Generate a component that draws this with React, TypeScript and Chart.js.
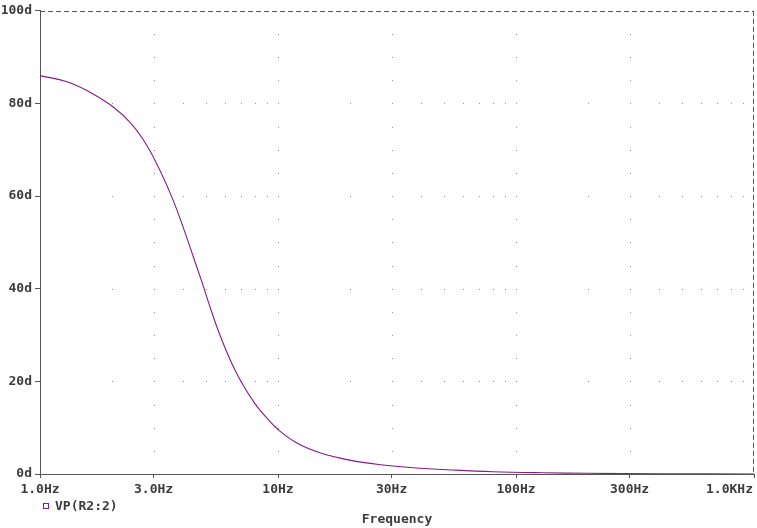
import React, { useEffect, useRef } from "react";
import { Chart, registerables } from "chart.js";

Chart.register(...registerables);

// ---- data ----
const freqHz = [1, 1.3, 1.6, 2, 2.4, 2.8, 3.2, 3.6, 4, 4.4, 4.8, 5.2, 5.7, 6.3, 7, 8, 9, 10, 12, 15, 20, 27, 37, 55, 80, 130, 200, 400, 1000];
const phaseDeg = [86.0, 84.7, 82.6, 79.5, 75.8, 71.1, 65.4, 59.5, 53.2, 47.0, 41.3, 35.8, 30.0, 24.6, 19.9, 15.2, 12.0, 9.6, 6.7, 4.6, 3.0, 2.0, 1.35, 0.85, 0.5, 0.27, 0.15, 0.05, 0.0];

const xTickValues = [1, 3, 10, 30, 100, 300, 1000];
const xTickLabels = ["1.0Hz", "3.0Hz", "10Hz", "30Hz", "100Hz", "300Hz", "1.0KHz"];
const yTickValues = [0, 20, 40, 60, 80, 100];
const yTickSuffix = "d";
const seriesLabel = "VP(R2:2)";
const xTitle = "Frequency";

// dotted grid positions
const gridRowValues = [20, 40, 60, 80];
const gridColValues = [3, 10, 30, 100, 300];
const minorMultipliers = [2, 3, 4, 5, 6, 7, 8, 9];
const decades = [1, 10, 100];
const gridColStepDeg = 5;

// ---- styles ----
const FONT = "'DejaVu Sans Mono', monospace";
const TEXT = "#3c3c3c";
const AXIS = "#555555";
const LINE = "#861a86";
const DOT = "#8a8a8a";

const gridDots = {
  id: "gridDots",
  beforeDatasetsDraw(chart: any) {
    const { ctx, scales } = chart;
    const x = scales.x;
    const y = scales.y;
    ctx.save();
    ctx.fillStyle = DOT;
    for (const r of gridRowValues) {
      const py = Math.round(y.getPixelForValue(r));
      for (const d of decades) {
        for (const m of minorMultipliers) {
          const px = Math.round(x.getPixelForValue(m * d));
          ctx.fillRect(px, py, 1, 1);
        }
      }
    }
    for (const c of gridColValues) {
      const px = Math.round(x.getPixelForValue(c));
      for (let v = gridColStepDeg; v < 100; v += gridColStepDeg) {
        const py = Math.round(y.getPixelForValue(v));
        ctx.fillRect(px, py, 1, 1);
      }
    }
    // dashed frame top and right
    const a = chart.chartArea;
    ctx.strokeStyle = AXIS;
    ctx.lineWidth = 1;
    ctx.setLineDash([5, 3]);
    ctx.beginPath();
    ctx.moveTo(a.left, Math.round(a.top) + 0.5);
    ctx.lineTo(a.right, Math.round(a.top) + 0.5);
    ctx.moveTo(Math.round(a.right) - 0.5, a.top);
    ctx.lineTo(Math.round(a.right) - 0.5, a.bottom);
    ctx.stroke();
    ctx.restore();
  },
};

const labelsPlugin = {
  id: "labelsPlugin",
  afterDraw(chart: any) {
    const { ctx, scales, chartArea, width } = chart;
    const x = scales.x;
    ctx.save();
    ctx.font = `bold 13px ${FONT}`;
    ctx.fillStyle = TEXT;
    ctx.textBaseline = "middle";
    ctx.textAlign = "left";
    xTickValues.forEach((v, i) => {
      const label = xTickLabels[i];
      const w = ctx.measureText(label).width;
      const px = x.getPixelForValue(v);
      let left = px - w / 2;
      left = Math.max(0, Math.min(left, width - 4 - w));
      ctx.fillText(label, left, chartArea.bottom + 16);
    });
    // legend
    ctx.strokeStyle = LINE;
    ctx.lineWidth = 1;
    ctx.strokeRect(43.5, 503.5, 5, 5);
    ctx.fillStyle = TEXT;
    ctx.fillText(seriesLabel, 55, 507);
    ctx.restore();
  },
};

export default function App() {
  const ref = useRef<HTMLCanvasElement>(null);

  useEffect(() => {
    const points = freqHz.map((f, i) => ({ x: f, y: phaseDeg[i] }));
    const chart = new Chart(ref.current as HTMLCanvasElement, {
      type: "line",
      data: {
        datasets: [
          {
            label: seriesLabel,
            data: points,
            borderColor: LINE,
            borderWidth: 1.1,
            pointRadius: 0,
            fill: false,
            tension: 0.4,
          },
        ],
      },
      options: {
        responsive: false,
        animation: false,
        devicePixelRatio: 1,
        layout: { padding: { top: 10, right: 3, left: 0, bottom: 0 } },
        plugins: {
          legend: { display: false },
          tooltip: { enabled: false },
        },
        scales: {
          x: {
            type: "logarithmic",
            position: "bottom",
            min: 1,
            max: 1000,
            afterBuildTicks: (s: any) => {
              s.ticks = xTickValues.map((v) => ({ value: v }));
            },
            afterFit: (s: any) => {
              s.height = 54;
            },
            ticks: { display: false },
            grid: { drawOnChartArea: false, drawTicks: true, tickLength: 4, color: AXIS },
            border: { display: true, dash: [5, 3], color: AXIS, width: 1 },
            title: {
              display: true,
              text: xTitle,
              color: TEXT,
              font: { family: FONT, size: 13, weight: "bold", lineHeight: 1.2 },
              padding: { top: 0, bottom: 1 },
            },
          },
          y: {
            type: "linear",
            min: 0,
            max: 100,
            afterBuildTicks: (s: any) => {
              s.ticks = yTickValues.map((v) => ({ value: v }));
            },
            afterFit: (s: any) => {
              s.width = 40;
            },
            ticks: {
              callback: (v: any) => `${v}${yTickSuffix}`,
              color: TEXT,
              font: { family: FONT, size: 13, weight: "bold" },
              padding: 3,
            },
            grid: { drawOnChartArea: false, drawTicks: true, tickLength: 5, color: AXIS },
            border: { display: true, dash: [5, 3], color: AXIS, width: 1 },
          },
        },
      },
      plugins: [gridDots, labelsPlugin],
    } as any);
    return () => chart.destroy();
  }, []);

  return (
    <div style={{ position: "absolute", left: 0, top: 0, width: 757, height: 528, background: "#ffffff" }}>
      <canvas ref={ref} width={757} height={528} style={{ display: "block" }} />
    </div>
  );
}
